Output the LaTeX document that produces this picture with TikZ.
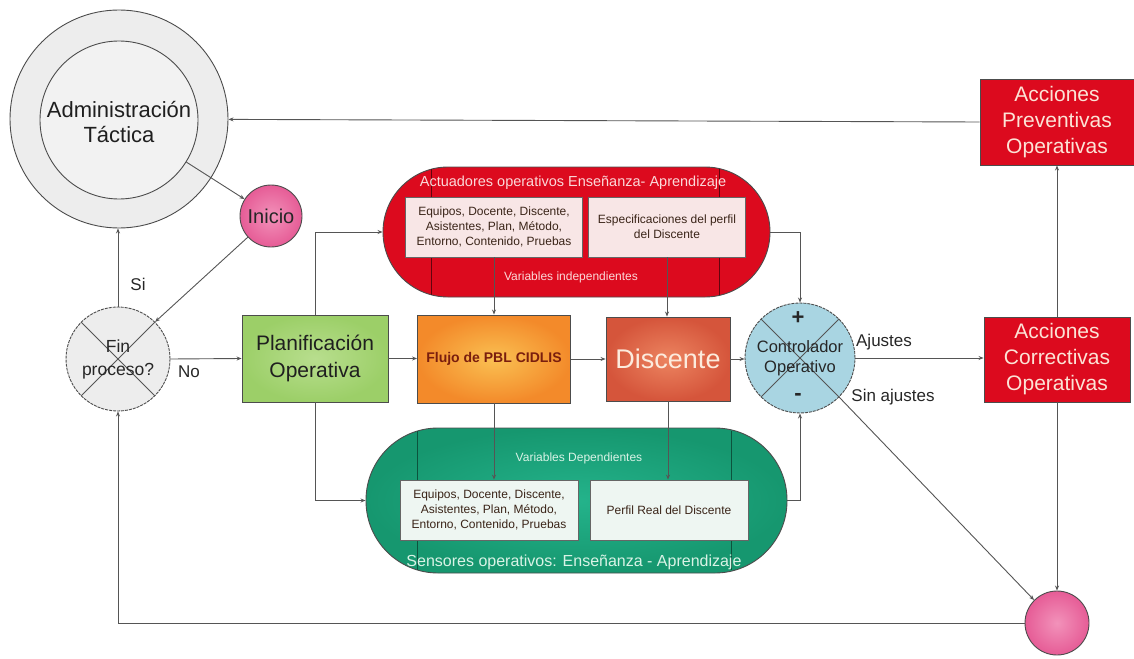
\documentclass[tikz,border=0pt]{standalone}
\usepackage{fontspec}
\setmainfont{Liberation Sans}
\usetikzlibrary{arrows.meta}

\definecolor{linegray}{HTML}{555555}
\definecolor{ringgray}{HTML}{EDEDED}
\definecolor{ringin}{HTML}{F2F2F2}
\definecolor{actred}{HTML}{DC0A1E}
\definecolor{actbox}{HTML}{F8E6E6}
\definecolor{senouter}{HTML}{16976F}
\definecolor{seninner}{HTML}{24B38B}
\definecolor{senbox}{HTML}{EEF6F2}
\definecolor{planout}{HTML}{9CCF68}
\definecolor{planin}{HTML}{B8DE8E}
\definecolor{flujoout}{HTML}{F38A2A}
\definecolor{flujoin}{HTML}{FAC052}
\definecolor{discout}{HTML}{D5553B}
\definecolor{discin}{HTML}{EC8460}
\definecolor{ctrlblue}{HTML}{A9D5E2}
\definecolor{pinkout}{HTML}{E65C96}
\definecolor{pinkin}{HTML}{F292BA}
\definecolor{pilltext}{HTML}{FBD9D9}
\definecolor{sentext}{HTML}{D9F3E6}
\definecolor{boxtext}{HTML}{3A2418}
\definecolor{redtext}{HTML}{FCE3D6}
\definecolor{flujotext}{HTML}{7A1E0E}
\definecolor{disctext}{HTML}{FCEBDD}

\tikzset{
  conn/.style={draw=linegray, line width=0.9pt, -{Stealth[length=5pt,width=4pt]}},
  guide/.style={draw=linegray, line width=0.8pt},
  outline/.style={draw=black!70, line width=0.9pt},
  ring/.style={circle, outline, fill=ringgray, inner sep=0pt},
  pinkball/.style={circle, outline, inner sep=0pt, inner color=pinkin, outer color=pinkout},
  redbox/.style={rectangle, outline, fill=actred, inner sep=0pt, align=center,
    text=redtext, font=\fontsize{21}{26}\selectfont},
  innerbox/.style={rectangle, draw=black!60, line width=0.8pt, inner sep=0pt, align=center,
    text=boxtext, font=\fontsize{12}{15}\selectfont},
  lbl/.style={font=\fontsize{17}{20}\selectfont, text=black!85, inner sep=0pt},
  pillline/.style={line width=0.8pt},
}

\begin{document}
\begin{tikzpicture}[x=1pt,y=-1pt]
\useasboundingbox (0,0) rectangle (1134,658);

% Tactical administration ring
\node[ring, minimum size=218pt] (adminout) at (119,119) {};
\node[ring, fill=ringin, minimum size=158pt] (adminin) at (119,120) {};
\node[align=center, text=black!88, font=\fontsize{22}{25}\selectfont] (admintxt) at (119,122) {Administración\\Táctica};

% Start
\node[pinkball, minimum size=62pt, text=black!85, font=\fontsize{20}{24}\selectfont] (inicio) at (271,216) {Inicio};

% End-of-process decision
\node[circle, outline, dash pattern=on 3pt off 1pt, fill=ringgray, minimum size=104pt, inner sep=0pt] (fin) at (118,359) {};
\draw[guide] (fin.45) -- (fin.225) (fin.135) -- (fin.315);
\node[align=center, text=black!85, font=\fontsize{17.5}{23}\selectfont] (fintxt) at (118,359) {Fin\\proceso?};

% Operational planning
\node[rectangle, outline, minimum width=146pt, minimum height=87pt, inner sep=0pt,
      inner color=planin, outer color=planout, align=center, text=black!88,
      font=\fontsize{21}{27}\selectfont] (plan) at (315,358.5) {Planificación\\Operativa};

% Actuators pill
\node[outline, fill=actred, rounded corners=65pt, minimum width=387pt, minimum height=130pt, inner sep=0pt] (act) at (576.5,232) {};
\draw[pillline, draw=black!55!actred] (431,169) -- (431,295) (719,169) -- (719,295);
\node[innerbox, fill=actbox, minimum width=177pt, minimum height=60pt] (actb1) at (494,227)
  {Equipos, Docente, Discente,\\Asistentes, Plan, Método,\\Entorno, Contenido, Pruebas};
\node[innerbox, fill=actbox, minimum width=157pt, minimum height=60pt] (actb2) at (667,227)
  {Especificaciones del perfil\\del Discente};
\node[text=pilltext, font=\fontsize{14.5}{17}\selectfont, inner sep=0pt] (acttitle) at (573,183) {Actuadores operativos Enseñanza- Aprendizaje};
\node[text=pilltext, font=\fontsize{12}{14}\selectfont, inner sep=0pt] (actvar) at (571,277) {Variables independientes};

% Sensors pill
\node[outline, inner color=seninner, outer color=senouter, rounded corners=72pt, minimum width=421pt, minimum height=145pt, inner sep=0pt] (sen) at (576.5,500.5) {};
\draw[pillline, draw=black!45!senouter] (417,431) -- (417,570) (731,431) -- (731,570);
\node[innerbox, fill=senbox, minimum width=178pt, minimum height=60pt] (senb1) at (489,510)
  {Equipos, Docente, Discente,\\Asistentes, Plan, Método,\\Entorno, Contenido, Pruebas};
\node[innerbox, fill=senbox, minimum width=158pt, minimum height=60pt] (senb2) at (669,510)
  {Perfil Real del Discente};
\node[text=sentext, font=\fontsize{12}{14}\selectfont, inner sep=0pt] (senvar) at (579,458) {Variables Dependientes};
\node[text=sentext, font=\fontsize{16}{19}\selectfont, inner sep=0pt] (sentitle) at (574,562) {Sensores operativos: Enseñanza - Aprendizaje};

% PBL flow and learner
\node[rectangle, outline, minimum width=153pt, minimum height=88pt, inner sep=0pt,
      inner color=flujoin, outer color=flujoout, text=flujotext,
      font=\bfseries\fontsize{14}{17}\selectfont] (flujo) at (494,359) {Flujo de PBL CIDLIS};
\node[rectangle, outline, minimum width=124pt, minimum height=84pt, inner sep=0pt,
      inner color=discin, outer color=discout, text=disctext,
      font=\fontsize{27}{30}\selectfont] (disc) at (668,359) {Discente};

% Operational controller
\node[circle, outline, dash pattern=on 3pt off 1pt, fill=ctrlblue, minimum size=110pt, inner sep=0pt] (ctrl) at (800,358) {};
\draw[guide] (ctrl.45) -- (ctrl.225) (ctrl.135) -- (ctrl.315);
\node[align=center, text=black!85, font=\fontsize{16.5}{20}\selectfont] (ctrltxt) at (800,358) {Controlador\\Operativo};
\node[text=black!85, font=\bfseries\fontsize{22}{24}\selectfont, inner sep=0pt] (plus) at (798,318) {+};
\node[text=black!85, font=\bfseries\fontsize{22}{24}\selectfont, inner sep=0pt] (minus) at (798,397) {-};

% Corrective and preventive actions
\node[redbox, minimum width=146pt, minimum height=85pt] (corr) at (1057,359.5) {Acciones\\Correctivas\\Operativas};
\node[redbox, minimum width=154pt, minimum height=86pt] (prev) at (1057,122) {Acciones\\Preventivas\\Operativas};

% Closing node
\node[pinkball, minimum size=64pt] (endc) at (1057,623) {};

% Connectors
\draw[conn] (prev.west) -- (adminout);
\draw[conn] (adminin.-32) -- (inicio);
\draw[conn] (inicio) -- (fin.45);
\draw[conn] (fin.north) -- (fin.north |- adminout.south);
\draw[conn] (fin.east) -- (plan.west);
\draw[conn] (plan.north) |- (act.west);
\draw[conn] (plan.south) |- (sen.west);
\draw[conn] (plan.east) -- (plan.east -| flujo.west);
\draw[conn] (flujo.east) -- (flujo.east -| disc.west);
\draw[conn] (disc.east) -- (disc.east -| ctrl.west);
\draw[conn] (actb1.south) -- (actb1.south |- flujo.north);
\draw[conn] (actb2.south) -- (actb2.south |- disc.north);
\draw[conn] (flujo.south) -- (flujo.south |- senb1.north);
\draw[conn] (disc.south) -- (disc.south |- senb2.north);
\draw[conn] (act.east) -| (ctrl.north);
\draw[conn] (sen.east) -| (ctrl.south);
\draw[conn] (ctrl.east) -- (ctrl.east -| corr.west);
\draw[conn] (ctrl.-45) -- (endc.135);
\draw[conn] (corr.north) -- (prev.south);
\draw[conn] (corr.south) -- (endc.north);
\draw[conn] (endc.west) -| (fin.south);

% Branch labels
\node[lbl] (si) at (138,284) {Si};
\node[lbl] (no) at (189,372) {No};
\node[lbl] (ajustes) at (884,342) {Ajustes};
\node[lbl] (sinaj) at (893,397) {Sin ajustes};
\end{tikzpicture}
\end{document}
